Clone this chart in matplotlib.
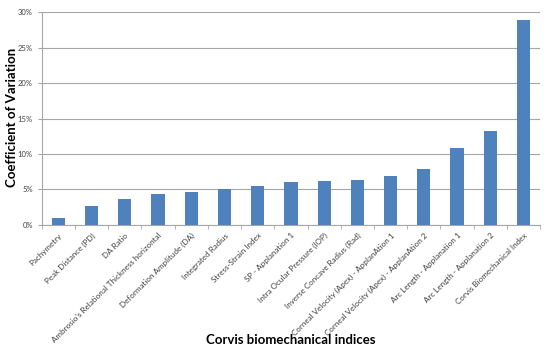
import numpy as np
import matplotlib.pyplot as plt
from matplotlib.ticker import PercentFormatter

# Дані
categories = [
    "Pachymetry", "Peak Distance (PD)", "DA Ratio",
    "Ambrosio's Relational Thickness horizontal", "Deformation Amplitude (DA)",
    "Integrated Radius", "Stress-Strain Index", "SP - Applanation 1",
    "Intra Ocular Pressure (IOP)", "Inverse Concave Radius (Rad)",
    "Corneal Velocity (Apex) - ApplanAtion 1", "Corneal Velocity (Apex) - ApplanAtion 2",
    "Arc Length - Applanation 1", "Arc Length - Applanation 2",
    "Corvis Biomechanical Index",
]
cv_values = [0.94, 2.7, 3.65, 4.3, 4.7, 5.1, 5.5, 6.0, 6.2, 6.3, 6.85, 7.95, 10.85, 13.3, 28.9]
y_ticks = [0, 5, 10, 15, 20, 25, 30]

plt.rcParams['font.family'] = ['Lato', 'DejaVu Sans']

fig = plt.figure(figsize=(5.5, 3.57), dpi=100)
ax = fig.add_axes([0.076, 0.370, 0.906, 0.596])

xpos = np.arange(len(categories))
ax.bar(xpos, cv_values, width=0.4, color='#4F81BD', zorder=3)

ax.set_xlim(-0.5, len(categories) - 0.5)
ax.set_ylim(0, 30)
ax.set_yticks(y_ticks)
ax.yaxis.set_major_formatter(PercentFormatter(decimals=0))
ax.grid(axis='y', color='#A6A6A6', linewidth=0.8, zorder=0)

ax.set_xticks(xpos)
ax.set_xticklabels(categories, rotation=45, ha='right', va='top',
                   rotation_mode='anchor', fontsize=5.8, color='#404040')
ax.tick_params(axis='x', length=0, pad=5)
ax.set_xticks(np.arange(-0.5, len(categories), 1), minor=True)
ax.tick_params(axis='x', which='minor', length=3, color='#A6A6A6')
ax.tick_params(axis='y', labelsize=5.5, labelcolor='#404040', length=3, color='#A6A6A6')

for s in ['top', 'right']:
    ax.spines[s].set_visible(False)
for s in ['left', 'bottom']:
    ax.spines[s].set_color('#A6A6A6')

fig.text(0.529, 0.047, "Corvis biomechanical indices", ha='center', va='center',
         fontsize=9.5, fontweight='bold')
fig.text(0.022, 0.67, "Coefficient of Variation", ha='center', va='center',
         rotation=90, fontsize=9.5, fontweight='bold')

fig.savefig("out.png", dpi=100)
